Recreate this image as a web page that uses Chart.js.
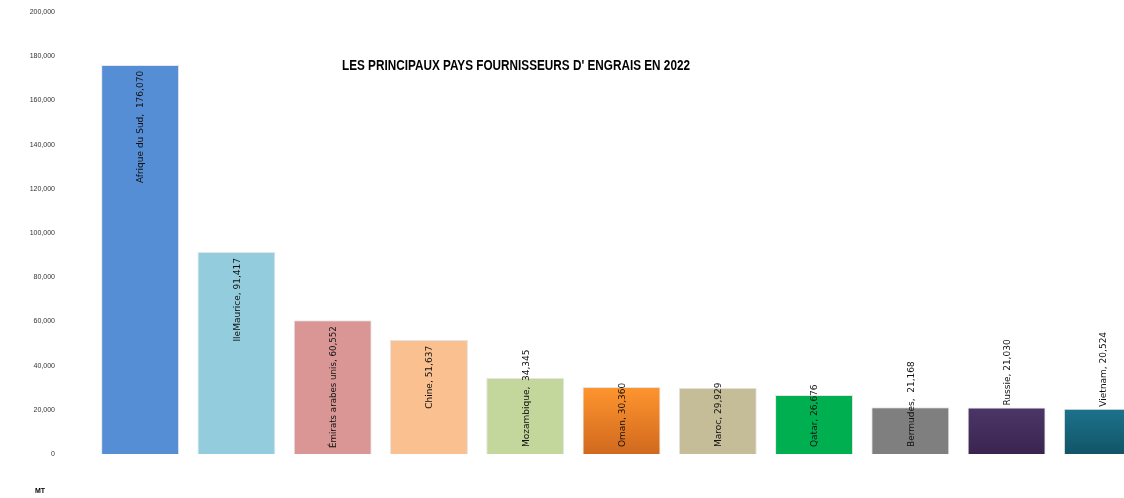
<!DOCTYPE html>
<html>
<head>
<meta charset="utf-8">
<script src="https://cdn.jsdelivr.net/npm/chart.js@4/dist/chart.umd.min.js"></script>
<style>
  html, body { margin: 0; padding: 0; background: #fff; overflow: hidden; }
  #wrap { width: 1152px; height: 498px; }
</style>
</head>
<body>
<div id="wrap"><canvas id="chart" width="1152" height="498"></canvas></div>
<script>
// données
const pays = ['Afrique du Sud', 'IleMaurice', 'Émirats arabes unis', 'Chine', 'Mozambique',
  'Oman', 'Maroc', 'Qatar', 'Bermudes', 'Russie', 'Vietnam'];
const volumes = [176070, 91417, 60552, 51637, 34345, 30360, 29929, 26676, 21168, 21030, 20524];
const sepLabel = [',  ', ', ', ', ', ', ', ',  ', ', ', ', ', ', ', ',  ', ', ', ', '];
const yTicks = [0, 20000, 40000, 60000, 80000, 100000, 120000, 140000, 160000, 180000, 200000];
const titre = "LES PRINCIPAUX PAYS FOURNISSEURS D' ENGRAIS EN 2022";
const unite = 'MT';

// couleurs (haut, bas) - dégradé quand différent
const couleurs = [
  ['#558ED5', '#558ED5'], ['#93CDDD', '#93CDDD'], ['#D99694', '#D99694'], ['#FAC090', '#FAC090'],
  ['#C3D69B', '#C3D69B'], ['#FF952E', '#D0691E'], ['#C4BD97', '#C4BD97'], ['#00B050', '#00B050'],
  ['#7F7F7F', '#7F7F7F'], ['#4C3668', '#3A244F'], ['#1C738B', '#125468']
];
// position des étiquettes: 'in' = haut interne, 'base' = bas interne, 'out' = au dessus
const posLabel = ['in', 'in', 'in', 'in', 'base', 'base', 'base', 'base', 'base', 'out', 'out'];

function couleurBarre(ctx) {
  const chart = ctx.chart;
  const i = ctx.dataIndex;
  const c = couleurs[i];
  if (c[0] === c[1] || !chart.chartArea) return c[0];
  const y = chart.scales.y;
  const g = chart.ctx.createLinearGradient(0, y.getPixelForValue(volumes[i]), 0, y.getPixelForValue(0));
  g.addColorStop(0, c[0]);
  g.addColorStop(1, c[1]);
  return g;
}

const etiquettes = {
  id: 'etiquettes',
  afterDatasetsDraw(chart) {
    const ctx = chart.ctx;
    const meta = chart.getDatasetMeta(0);
    ctx.save();
    ctx.font = '9px "DejaVu Sans", "Liberation Sans", Arial, sans-serif';
    ctx.fillStyle = '#111';
    ctx.textBaseline = 'middle';
    meta.data.forEach((bar, i) => {
      const txt = pays[i] + sepLabel[i] + volumes[i].toLocaleString('en-US');
      let y, align;
      if (posLabel[i] === 'in') { y = bar.y + 6; align = 'right'; }
      else if (posLabel[i] === 'base') { y = bar.base - 7; align = 'left'; }
      else { y = bar.y - 2; align = 'left'; }
      ctx.save();
      ctx.translate(bar.x + 1, y);
      ctx.rotate(-Math.PI / 2);
      ctx.textAlign = align;
      // étiquettes internes un peu serrées pour tenir dans la barre
      if (posLabel[i] === 'in') ctx.fillText(txt, 0, 0, bar.base - bar.y - 12);
      else ctx.fillText(txt, 0, 0);
      ctx.restore();
    });
    // titre (Calibri-like, condensé)
    ctx.font = 'bold 14px "Liberation Sans", Arial, sans-serif';
    ctx.textAlign = 'center';
    ctx.fillStyle = '#000';
    ctx.fillText(titre, 516, 66, 348);
    // unité
    ctx.font = 'bold 7px "Liberation Sans", Arial, sans-serif';
    ctx.textAlign = 'left';
    ctx.fillText(unite, 35, 491);
    ctx.restore();
  }
};

const config = {
  type: 'bar',
  data: {
    labels: pays,
    datasets: [{
      data: volumes,
      backgroundColor: couleurBarre,
      borderColor: 'rgba(0,0,0,0.10)',
      borderWidth: 1,
      categoryPercentage: 1,
      barPercentage: 0.81
    }]
  },
  options: {
    responsive: false,
    animation: false,
    layout: { padding: { top: 12, bottom: 44, left: 0, right: 1 } },
    plugins: { legend: { display: false }, tooltip: { enabled: false }, title: { display: false } },
    scales: {
      x: { display: false },
      y: {
        min: 0, max: 200000,
        afterBuildTicks: s => { s.ticks = yTicks.map(v => ({ value: v })); },
        afterFit: s => { s.width = 92; s.paddingTop = 4; s.paddingBottom = 4; },
        grid: { display: false, drawTicks: false },
        border: { display: false },
        ticks: {
          padding: 37,
          color: '#333',
          font: { size: 7, family: '"Liberation Sans", Arial, sans-serif' },
          callback: v => v.toLocaleString('en-US')
        }
      }
    }
  },
  plugins: [etiquettes]
};

const myChart = new Chart(document.getElementById('chart'), config);
</script>
</body>
</html>
